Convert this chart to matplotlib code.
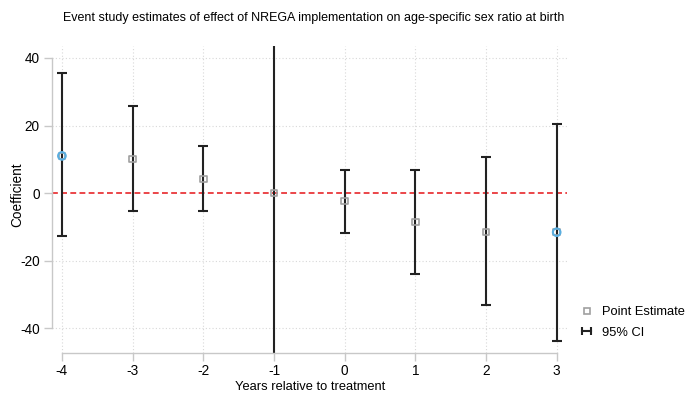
import matplotlib
matplotlib.use("Agg")
import matplotlib.pyplot as plt
from matplotlib.lines import Line2D
from matplotlib.legend_handler import HandlerLine2D

plt.rcParams['font.family'] = ['Liberation Sans', 'DejaVu Sans']
plt.rcParams['axes.unicode_minus'] = False

years = [-4, -3, -2, -1, 0, 1, 2, 3]
coef = [11.0, 10.1, 4.1, 0.0, -2.4, -8.6, -11.6, -11.6]
ci_hi = [35.5, 25.8, 13.9, 60.0, 6.8, 6.8, 10.7, 20.4]
ci_lo = [-12.7, -5.3, -5.3, -60.0, -11.9, -24.0, -33.2, -43.9]
highlight = [-4, 3]

fig = plt.figure(figsize=(6.87, 3.95), dpi=100)
ax = fig.add_axes([0.0757, 0.106, 0.749, 0.778])

for t in years:
    ax.axvline(t, color='#d8d8d8', lw=0.8, ls=(0, (1, 2)), zorder=0)
for v in [-40, -20, 20, 40]:
    ax.axhline(v, color='#d8d8d8', lw=0.8, ls=(0, (1, 2)), zorder=0)
ax.axhline(0, color='#e8262a', lw=1.2, ls=(0, (3.5, 2)), zorder=1)

err = [[c - l for c, l in zip(coef, ci_lo)], [h - c for c, h in zip(coef, ci_hi)]]
ax.errorbar(years, coef, yerr=err, fmt='none', ecolor='#222222', elinewidth=1.5,
            capsize=3.5, capthick=1.5, zorder=2)
ax.scatter(years, coef, marker='s', s=22, facecolors='none', edgecolors='#a0a0a0',
           linewidths=1.2, zorder=3)
hx = [t for t in years if t in highlight]
hy = [c for t, c in zip(years, coef) if t in highlight]
ax.scatter(hx, hy, marker='o', s=30, facecolors='none', edgecolors='#5aaee0',
           linewidths=1.5, zorder=4)

ax.set_xlim(-4.14, 3.14)
ax.set_ylim(-47.4, 43.6)
ax.set_xticks(years)
ax.set_yticks([-40, -20, 0, 20, 40])
ax.tick_params(colors='#c8c8c8', labelcolor='black', labelsize=9.8, length=6, width=1, pad=3)
ax.tick_params(axis='x', pad=2)
for s in ['top', 'right']:
    ax.spines[s].set_visible(False)
for s in ['left', 'bottom']:
    ax.spines[s].set_color('#c8c8c8')
    ax.spines[s].set_linewidth(1.0)
ax.spines['bottom'].set_bounds(-4, 3)
ax.spines['left'].set_bounds(-40, 40)

fig.text(310 / 687, 1 - 386.5 / 395, 'Years relative to treatment', fontsize=9.3,
         ha='center', va='center')
fig.text(17 / 687, 1 - 195 / 395, 'Coefficient', fontsize=9.8, rotation=90,
         ha='center', va='center')
fig.text(314 / 687, 1 - 18 / 395,
         'Event study estimates of effect of NREGA implementation on age-specific sex ratio at birth',
         fontsize=9, ha='center', va='center')

h_pt = Line2D([], [], marker='s', ls='none', markersize=5, markerfacecolor='none',
              markeredgecolor='#a0a0a0', markeredgewidth=1.2)
h_ci = Line2D([], [], marker='|', ls='-', color='#222222', lw=1.5, markersize=6,
              markeredgewidth=1.5)
fig.legend([h_pt, h_ci], ['Point Estimate', '95% CI'], loc='center left',
           bbox_to_anchor=(572 / 687, 1 - 322.5 / 395), frameon=False, fontsize=9.3,
           handlelength=1.3, handletextpad=0.5, labelspacing=0.65, borderpad=0,
           numpoints=1, handler_map={h_ci: HandlerLine2D(numpoints=2)})

fig.savefig('out.png', dpi=100)
